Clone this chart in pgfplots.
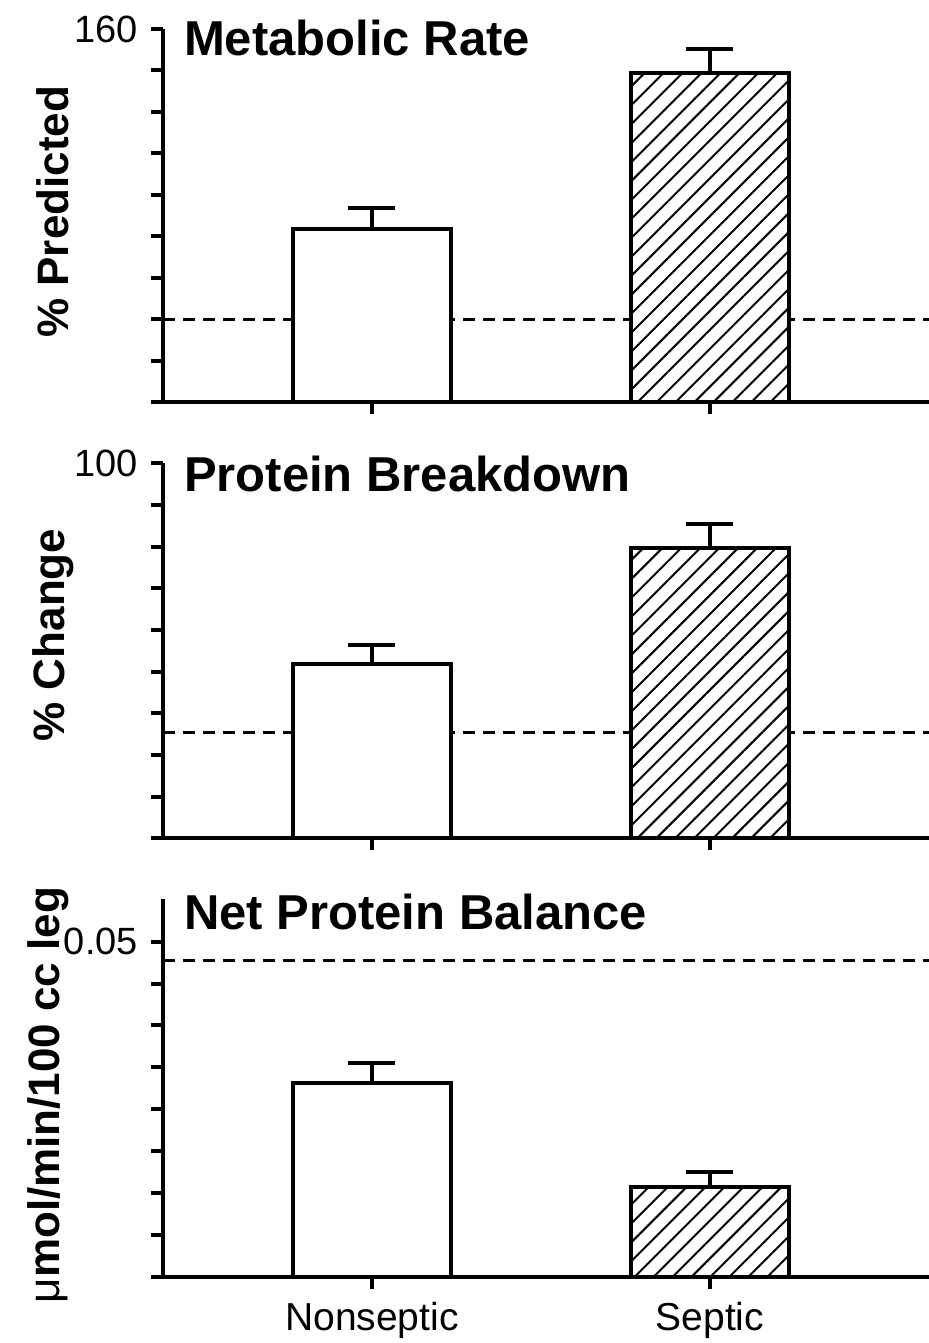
\documentclass[border=0pt]{standalone}
\usepackage{fontspec}
\setmainfont{Liberation Sans}
\usepackage{pgfplots}
\pgfplotsset{compat=1.18}
\usetikzlibrary{patterns.meta}
\tikzset{ttl/.style={anchor=base west, inner sep=0, font=\fontsize{24.5}{26}\selectfont\bfseries}}
\pgfplotsset{
  panel/.style={
    scale only axis, width=383pt,
    xmin=-0.618, xmax=1.648,
    axis lines*=left,
    axis line style={line width=2pt},
    every tick/.style={black, line width=2pt},
    tick align=outside, major tick length=6pt,
    xtick={0,1},
    scaled y ticks=false,
    /pgf/number format/assume math mode=true,
    ticklabel style={font=\fontsize{19}{21}\selectfont},
    yticklabel style={xshift=-3pt},
    ylabel style={font=\fontsize{22}{24}\selectfont\bfseries, anchor=center},
    clip mode=individual,
  },
  barbase/.style={ybar, bar shift=0pt, bar width=0.467, draw=black, fill=white, line width=2pt,
    error bars/.cd, y dir=plus, y explicit,
    error bar style={line width=2pt},
    error mark=|,
    error mark options={line width=2pt, mark size=11.75pt}},
  whitebar/.style={barbase},
  hatchbar/.style={postaction={pattern={Lines[angle=45, distance=6.7pt, line width=1pt]}}, barbase},
  dashline/.style={black, line width=1.5pt, dash pattern=on 6pt off 4pt, forget plot},
}
\begin{document}
\begin{tikzpicture}
\useasboundingbox (0,0) rectangle (464.5pt,671.5pt);
% Top panel
\begin{axis}[panel, at={(81.5pt,470.5pt)}, anchor=south west, height=186.5pt,
  ymin=70, ymax=160,
  ytick={70,80,90,100,110,120,130,140,150,160},
  yticklabels={,,,,,,,,,160},
  xticklabels={,},
  ylabel={\% Predicted},
  ylabel style={at={(axis description cs:-0.1436,0.51)}},
]
\addplot[dashline] coordinates {(-0.618,90) (1.648,90)};
\addplot[whitebar] coordinates {(0,111.8) +- (0,5.1)};
\addplot[hatchbar] coordinates {(1,149.4) +- (0,5.8)};
\node[ttl] at (axis description cs:0.027,0.930) {Metabolic Rate};
\end{axis}
% Middle panel
\begin{axis}[panel, at={(81.5pt,252.35pt)}, anchor=south west, height=187.5pt,
  ymin=10, ymax=100,
  ytick={10,20,30,40,50,60,70,80,90,100},
  yticklabels={,,,,,,,,,100},
  xticklabels={,},
  ylabel={\% Change},
  ylabel style={at={(axis description cs:-0.1436,0.542)}},
]
\addplot[dashline] coordinates {(-0.618,35.3) (1.648,35.3)};
\addplot[whitebar] coordinates {(0,51.8) +- (0,4.7)};
\addplot[hatchbar] coordinates {(1,79.7) +- (0,5.7)};
\node[ttl] at (axis description cs:0.027,0.9235) {Protein Breakdown};
\end{axis}
% Bottom panel
\begin{axis}[panel, at={(81.5pt,33.15pt)}, anchor=south west, height=188.85pt,
  ymin=0.01, ymax=0.0551,
  ytick={0.01,0.015,0.02,0.025,0.03,0.035,0.04,0.045,0.05},
  yticklabels={,,,,,,,,0.05},
  xticklabels={Nonseptic,Septic},
  xticklabel style={font=\fontsize{19.5}{21}\selectfont, yshift=-3pt},
  ylabel={\textmd{μ}mol/min/100 cc leg},
  ylabel style={at={(axis description cs:-0.150,0.481)}},
]
\addplot[dashline] coordinates {(-0.618,0.0478) (1.648,0.0478)};
\addplot[whitebar] coordinates {(0,0.0331) +- (0,0.0024)};
\addplot[hatchbar] coordinates {(1,0.0207) +- (0,0.0018)};
\node[ttl] at (axis description cs:0.027,0.918) {Net Protein Balance};
\end{axis}
\end{tikzpicture}
\end{document}
